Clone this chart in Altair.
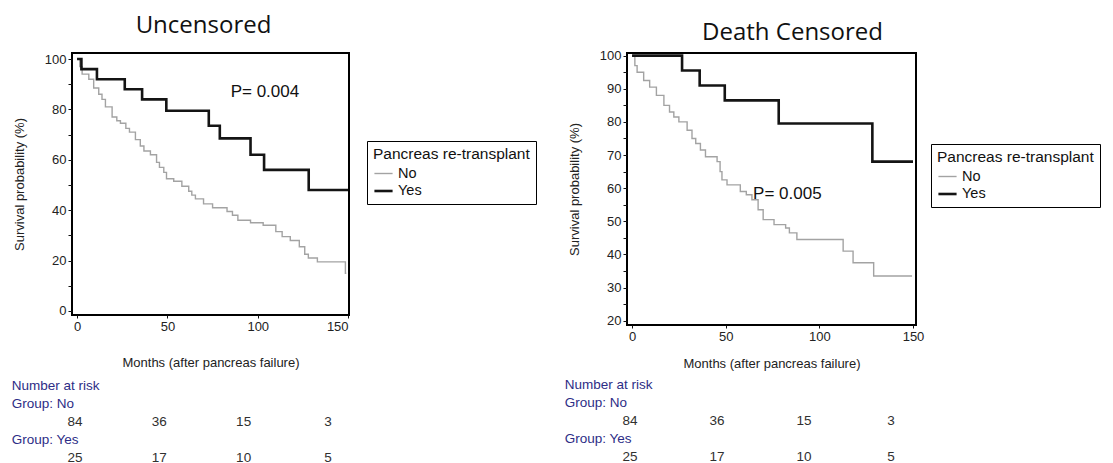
import altair as alt
import pandas as pd

GROUPS = ["No", "Yes"]

# ---- Uncensored panel (Kaplan-Meier steps) ----
unc_no_months = [0, 1.5, 2.8, 6.5, 9.2, 12, 13.8, 15.7, 19.4, 22, 24, 27, 29, 32.3, 35, 37,
                 40.6, 44, 45.6, 48, 49.5, 53.5, 58, 61.8, 63.5, 65.5, 70, 75, 83, 86, 89,
                 96, 103, 110, 113.5, 118, 123, 126, 128, 133, 148.5, 149]
unc_no_surv = [100, 97, 94, 92, 88.5, 86, 84, 81, 77, 75.5, 74.5, 72.5, 71, 68, 65.5, 63.5,
               62, 59, 57, 55, 52.5, 51.5, 49.5, 47.5, 46, 44.5, 42.5, 41, 39.5, 38, 36,
               35, 34, 31.5, 29.5, 28, 25.5, 22.5, 21, 19.5, 15, 15]
unc_yes_months = [0, 2.4, 11, 26.4, 36, 49.4, 72.9, 79, 96, 103.5, 128.2, 150]
unc_yes_surv = [100, 96, 92, 88, 84, 79.5, 73.5, 68.5, 62, 56, 48, 48]
unc_p_text = "P= 0.004"
unc_p_month = 85
unc_p_surv = 87

# ---- Death censored panel ----
dc_no_months = [0, 1.5, 2.7, 6.2, 9.4, 13, 17, 20, 22.3, 25, 29.4, 32, 34, 36.5, 39.2, 45.4,
                47, 48, 50.7, 57.8, 61, 64, 67.3, 70, 75.8, 82, 84, 88, 112.7, 118, 129, 149.5]
dc_no_surv = [100, 97, 95, 92.5, 90.5, 88, 85, 83, 81.5, 80, 77.5, 75, 73.5, 71.5, 69.5, 68,
              65, 62.5, 61, 59, 58, 56.5, 53.5, 50.5, 49, 48, 46.5, 44.5, 41, 37.5, 33.5, 33.5]
dc_yes_months = [0, 26.7, 36.1, 49.5, 78.3, 128.3, 150]
dc_yes_surv = [100, 95.5, 91, 86.5, 79.5, 68, 68]
dc_p_text = "P= 0.005"
dc_p_month = 64.6
dc_p_surv = 58.3

# ---- Number at risk ----
risk_cols = [0, 1, 2, 3]
risk_no = [84, 36, 15, 3]
risk_yes = [25, 17, 10, 5]
risk_row_labels = ["Number at risk", "Group: No", "Group: Yes"]
risk_label_rows = [0, 1, 3]
risk_no_row = 2
risk_yes_row = 4

x_tick_values = [0, 50, 100, 150]
unc_y_ticks = list(range(0, 101, 10))
dc_y_ticks = list(range(20, 101, 5))

FONT = "Liberation Sans"
TITLE_FONT = "Open Sans"
NAVY = "#2d2d86"
GRAY = "#a3a3a3"
BLACK = "#141414"


def km_panel(no_m, no_s, yes_m, yes_s, title, title_dx, title_dy, title_offset, xdom, ydom,
             yticks, ylabel_step, width, height, ptext, p_m, p_s, leg_x, leg_y, x_title_pad):
    df = pd.DataFrame({
        "month": list(no_m) + list(yes_m),
        "surv": list(no_s) + list(yes_s),
        "group": ["No"] * len(no_m) + ["Yes"] * len(yes_m),
    })
    x = alt.X("month:Q", scale=alt.Scale(domain=xdom, nice=False, zero=False),
              axis=alt.Axis(values=x_tick_values, title="Months (after pancreas failure)",
                            tickSize=3, labelPadding=2, titlePadding=x_title_pad))
    y = alt.Y("surv:Q", scale=alt.Scale(domain=ydom, nice=False, zero=False),
              axis=alt.Axis(values=yticks, title="Survival probability (%)",
                            labelExpr=f"datum.value % {ylabel_step} == 0 ? datum.label : ''",
                            tickSize=4, labelPadding=2, titlePadding=18))
    lines = alt.Chart(df).mark_line(interpolate="step-after", clip=True).encode(
        x=x, y=y,
        color=alt.Color("group:N", scale=alt.Scale(domain=GROUPS, range=[GRAY, BLACK]),
                        legend=alt.Legend(title="Pancreas re-transplant", orient="none",
                                          legendX=leg_x, legendY=leg_y, symbolType="stroke",
                                          symbolStrokeWidth=2, symbolSize=330,
                                          strokeColor="black", fillColor="white",
                                          padding=6, cornerRadius=0,
                                          titleFont=FONT, titleFontSize=15.5,
                                          titleFontWeight="normal", titleColor="#111",
                                          labelFont=FONT, labelFontSize=14.5,
                                          labelColor="#111", rowPadding=0, titlePadding=1)),
        strokeWidth=alt.StrokeWidth("group:N", scale=alt.Scale(domain=GROUPS, range=[1.4, 2.6]),
                                    legend=None),
    )
    pdf = pd.DataFrame({"month": [p_m], "surv": [p_s], "label": [ptext]})
    ptxt = alt.Chart(pdf).mark_text(align="left", baseline="middle", font=FONT, fontSize=17,
                                    color="#111").encode(x=x, y=y, text="label:N")
    return alt.layer(lines, ptxt).properties(
        width=width, height=height,
        title=alt.TitleParams(title, font=TITLE_FONT, fontSize=24, fontWeight="normal",
                              color="#111", anchor="middle", dx=title_dx, dy=title_dy,
                              offset=title_offset),
    )


def risk_panel(xdom, label_col, width):
    lab_df = pd.DataFrame({"col": [label_col] * 3, "row": risk_label_rows,
                           "text": risk_row_labels})
    num_df = pd.DataFrame({"col": risk_cols * 2,
                           "row": [risk_no_row] * 4 + [risk_yes_row] * 4,
                           "text": [str(v) for v in risk_no + risk_yes]})
    xs = alt.Scale(domain=xdom, nice=False, zero=False)
    ys = alt.Scale(domain=[-0.5, 4.5], nice=False, zero=False, reverse=True)
    labs = alt.Chart(lab_df).mark_text(align="left", baseline="middle", font=FONT,
                                       fontSize=13.5, color=NAVY).encode(
        x=alt.X("col:Q", scale=xs, axis=None), y=alt.Y("row:Q", scale=ys, axis=None),
        text="text:N")
    nums = alt.Chart(num_df).mark_text(align="center", baseline="middle", font=FONT,
                                       fontSize=13.5, color="#303030").encode(
        x=alt.X("col:Q", scale=xs, axis=None), y=alt.Y("row:Q", scale=ys, axis=None),
        text="text:N")
    return alt.layer(labs, nums).properties(
        width=width, height=90, view=alt.ViewBackground(stroke="transparent"))


km_left = km_panel(unc_no_months, unc_no_surv, unc_yes_months, unc_yes_surv, "Uncensored",
                   -7, -3, 12, [-2.8, 150.5], [-1.6, 102.4], unc_y_ticks, 20, 277, 262,
                   unc_p_text, unc_p_month, unc_p_surv, 295, 88, 23)
km_right = km_panel(dc_no_months, dc_no_surv, dc_yes_months, dc_yes_surv, "Death Censored",
                    21, 8, 13, [-2.7, 151.6], [18.7, 100.8], dc_y_ticks, 10, 289, 272,
                    dc_p_text, dc_p_month, dc_p_surv, 304, 91, 14)

table_left = risk_panel([-0.036, 277 / 84.3 - 0.036], -0.75, 277)
table_right = risk_panel([-3 / 87, 286 / 87], -0.75, 289)

left = alt.vconcat(km_left, table_left, spacing=6)
right = alt.vconcat(km_right, table_right, spacing=4)

chart = alt.hconcat(left, right, spacing=26).resolve_scale(
    color="independent", strokeWidth="independent"
).resolve_legend(
    color="independent", strokeWidth="independent"
).configure_view(
    stroke="black", strokeWidth=2
).configure_axis(
    domain=False, grid=False, tickColor="#111", labelColor="#222", labelFont=FONT,
    labelFontSize=13, titleFont=FONT, titleFontSize=13, titleFontWeight="normal",
    titleColor="#222"
).properties(
    background="white", padding={"left": 2, "top": 5, "right": 0, "bottom": 0}
)

chart.save("out.html", embed_options={"renderer": "svg", "actions": False})
